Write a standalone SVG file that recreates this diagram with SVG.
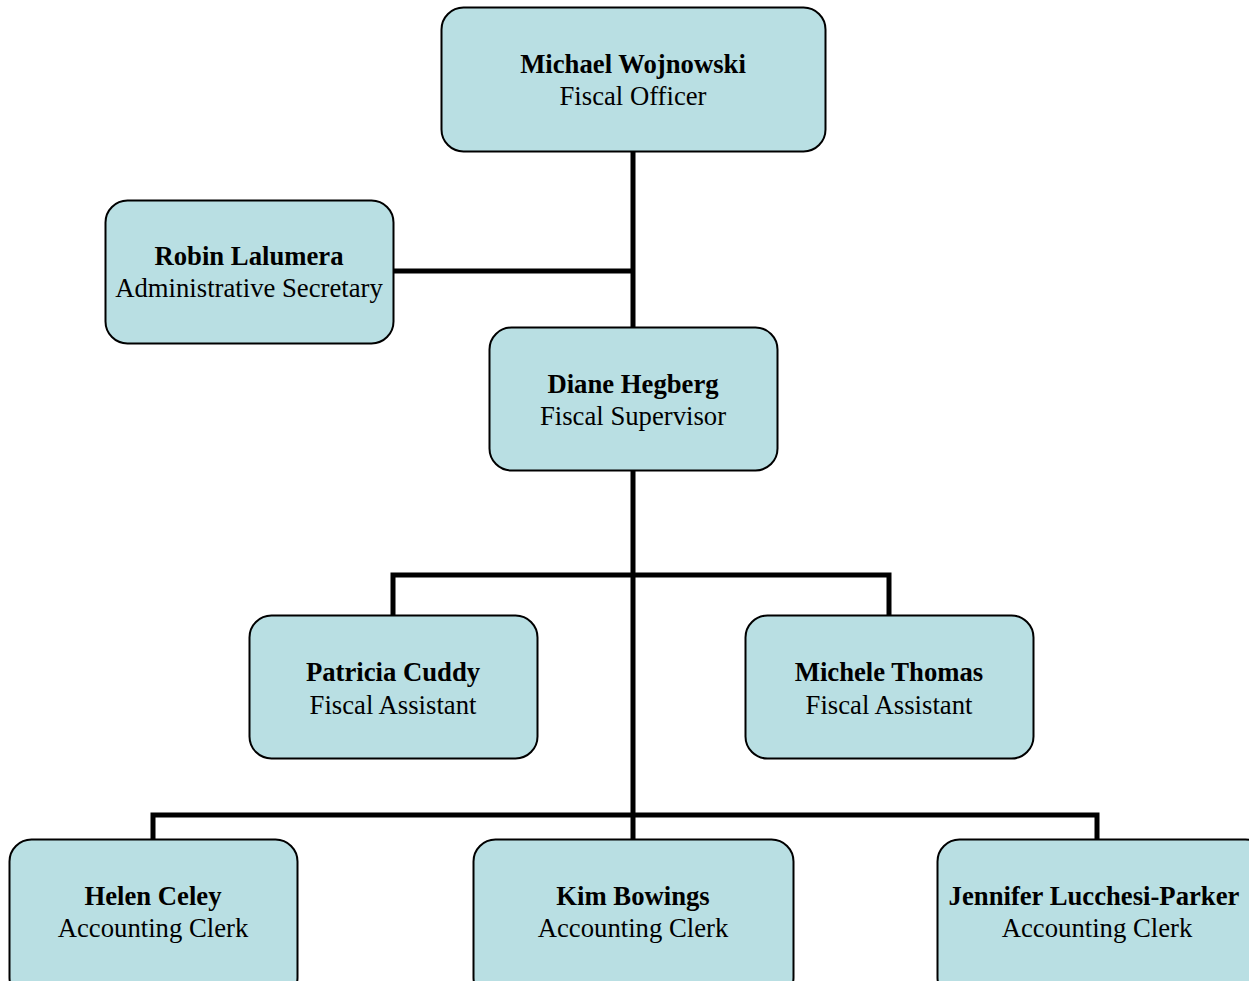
<svg xmlns="http://www.w3.org/2000/svg" width="1249" height="981" viewBox="0 0 1249 981">
  <style>
    .box { fill: #B9DFE3; stroke: #000; stroke-width: 2; }
    .name { font-family: "Liberation Serif", "Times New Roman", serif; font-size: 26.7px; font-weight: bold; text-anchor: middle; fill: #000; }
    .role { font-family: "Liberation Serif", "Times New Roman", serif; font-size: 26.7px; text-anchor: middle; fill: #000; }
    .link { fill: none; stroke: #000; stroke-width: 5; }
  </style>
  <rect width="1249" height="981" fill="#fff"/>

  <g id="connectors">
    <path class="link" d="M633 151 V327"/>
    <path class="link" d="M393 271 H633"/>
    <path class="link" d="M633 471 V839"/>
    <path class="link" d="M393 615 V575 H889 V615"/>
    <path class="link" d="M153 839 V815 H1097 V839"/>
  </g>

  <g id="michael-wojnowski">
    <rect class="box" x="441.5" y="7.5" width="384" height="144" rx="22"/>
    <text class="name" x="633" y="73">Michael Wojnowski</text>
    <text class="role" x="633" y="105">Fiscal Officer</text>
  </g>

  <g id="robin-lalumera">
    <rect class="box" x="105.5" y="200.5" width="288" height="143" rx="22"/>
    <text class="name" x="249" y="265">Robin Lalumera</text>
    <text class="role" x="249" y="297">Administrative Secretary</text>
  </g>

  <g id="diane-hegberg">
    <rect class="box" x="489.5" y="327.5" width="288" height="143" rx="22"/>
    <text class="name" x="633" y="393">Diane Hegberg</text>
    <text class="role" x="633" y="425">Fiscal Supervisor</text>
  </g>

  <g id="patricia-cuddy">
    <rect class="box" x="249.5" y="615.5" width="288" height="143" rx="22"/>
    <text class="name" x="393" y="681">Patricia Cuddy</text>
    <text class="role" x="393" y="714">Fiscal Assistant</text>
  </g>

  <g id="michele-thomas">
    <rect class="box" x="745.5" y="615.5" width="288" height="143" rx="22"/>
    <text class="name" x="889" y="681">Michele Thomas</text>
    <text class="role" x="889" y="714">Fiscal Assistant</text>
  </g>

  <g id="helen-celey">
    <rect class="box" x="9.5" y="839.5" width="288" height="160" rx="22"/>
    <text class="name" x="153" y="905">Helen Celey</text>
    <text class="role" x="153" y="937">Accounting Clerk</text>
  </g>

  <g id="kim-bowings">
    <rect class="box" x="473.5" y="839.5" width="320" height="160" rx="22"/>
    <text class="name" x="633" y="905">Kim Bowings</text>
    <text class="role" x="633" y="937">Accounting Clerk</text>
  </g>

  <g id="jennifer-lucchesi-parker">
    <rect class="box" x="937.5" y="839.5" width="330" height="160" rx="22"/>
    <text class="name" x="1094" y="905">Jennifer Lucchesi-Parker</text>
    <text class="role" x="1097" y="937">Accounting Clerk</text>
  </g>
</svg>
